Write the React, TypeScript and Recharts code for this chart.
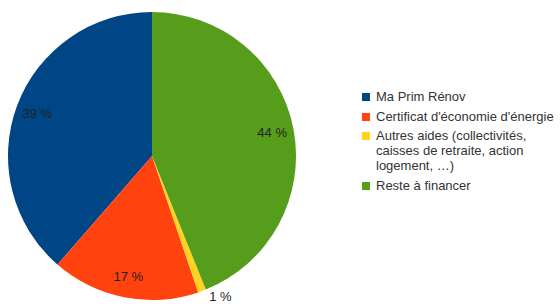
import React from "react";
import { PieChart, Pie, Cell, Legend } from "recharts";

const categories = [
  "Ma Prim Rénov",
  "Certificat d'économie d'énergie",
  "Autres aides (collectivités, caisses de retraite, action logement, …)",
  "Reste à financer",
];
const values = [38.6, 16.6, 0.9, 43.9];
const valueLabels = ["39 %", "17 %", "1 %", "44 %"];
const legendLines = [
  ["Ma Prim Rénov"],
  ["Certificat d'économie d'énergie"],
  ["Autres aides (collectivités,", "caisses de retraite, action", "logement, …)"],
  ["Reste à financer"],
];
const colors = ["#004586", "#ff420e", "#ffd320", "#579d1c"];

const data = categories.map((name, i) => ({ name, value: values[i], label: valueLabels[i] }));

const RADIAN = Math.PI / 180;

const renderLabel = (props: any) => {
  const { cx, cy, midAngle, outerRadius, index, percent } = props;
  const inside = percent > 0.05;
  const r = inside ? outerRadius * 0.85 : outerRadius + 6;
  const x = cx + r * Math.cos(-midAngle * RADIAN);
  const y = cy + r * Math.sin(-midAngle * RADIAN);
  return (
    <text
      x={inside ? x : x + 5}
      y={y}
      textAnchor={inside ? "middle" : "start"}
      dominantBaseline="central"
      fill="#222"
      fontSize={13}
      fontFamily="Liberation Sans, Arial, sans-serif"
    >
      {valueLabels[index]}
    </text>
  );
};

const LegendContent = () => (
  <div style={{ fontFamily: "Liberation Sans, Arial, sans-serif", fontSize: 13, color: "#333", lineHeight: "15px" }}>
    {legendLines.map((lines, i) => (
      <div key={i} style={{ display: "flex", alignItems: "flex-start", marginBottom: 4.5 }}>
        <div
          style={{
            width: 8,
            height: 8,
            background: colors[i],
            marginTop: 4,
            marginRight: 6,
            flexShrink: 0,
          }}
        />
        <div>
          {lines.map((l, j) => (
            <div key={j} style={{ whiteSpace: "nowrap" }}>{l}</div>
          ))}
        </div>
      </div>
    ))}
  </div>
);

export default function App() {
  return (
    <div style={{ position: "absolute", left: 0, top: 0, width: 560, height: 304, background: "#fff", overflow: "hidden" }}>
      <style>{`html, body { margin: 0; overflow: hidden; }`}</style>
      <PieChart width={560} height={304} margin={{ top: 0, right: 0, bottom: 0, left: 0 }}>
        <Pie
          data={data}
          dataKey="value"
          nameKey="name"
          cx={152}
          cy={156}
          outerRadius={144}
          startAngle={90}
          endAngle={450}
          stroke="none"
          label={renderLabel}
          labelLine={false}
          isAnimationActive={false}
        >
          {data.map((d, i) => (
            <Cell key={d.name} fill={colors[i]} />
          ))}
        </Pie>
        <Legend
          layout="vertical"
          align="right"
          verticalAlign="top"
          content={<LegendContent />}
          wrapperStyle={{ left: 362, top: 89, width: 198 }}
        />
      </PieChart>
    </div>
  );
}
